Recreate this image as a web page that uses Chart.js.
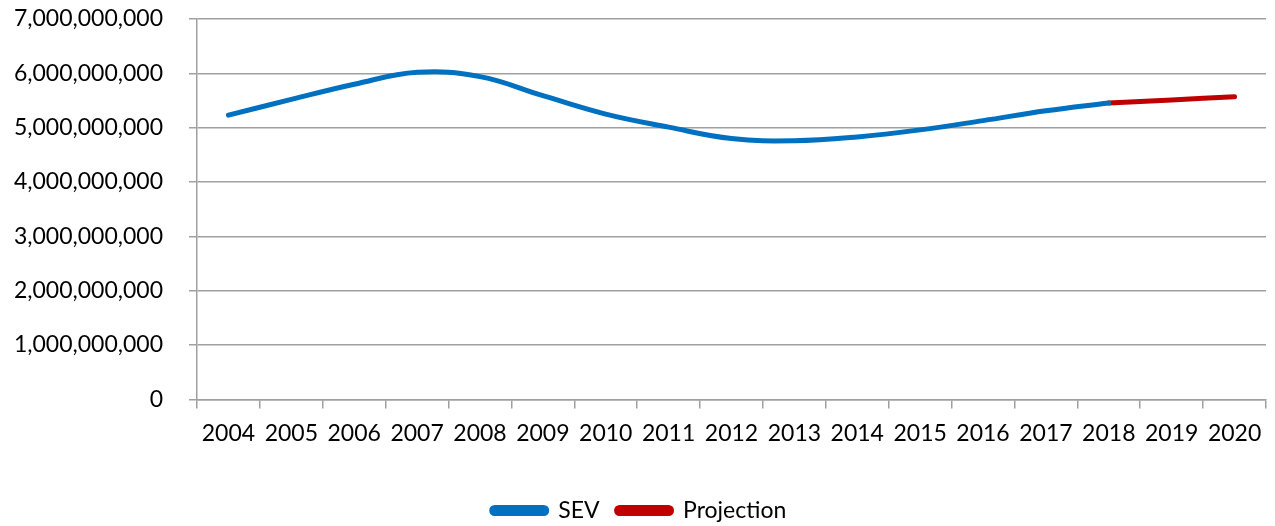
<!DOCTYPE html>
<html>
<head>
<meta charset="utf-8">
<title>SEV</title>
<script src="https://cdn.jsdelivr.net/npm/chart.js@4.4.1/dist/chart.umd.min.js"></script>
<style>
    html, body { margin: 0; padding: 0; background: #fff; }
    #wrap { width: 1275px; height: 526px; }
</style>
</head>
<body>
<div id="wrap"><canvas id="sevChart"></canvas></div>
<script>
// Data
const years = ['2004', '2005', '2006', '2007', '2008', '2009', '2010', '2011', '2012',
               '2013', '2014', '2015', '2016', '2017', '2018', '2019', '2020'];
const sevValues = [5.23e9, 5.52e9, 5.80e9, 6.02e9, 5.94e9, 5.59e9, 5.25e9, 5.01e9, 4.80e9,
                   4.76e9, 4.83e9, 4.96e9, 5.13e9, 5.31e9, 5.455e9, null, null];
const projectionValues = [null, null, null, null, null, null, null, null, null,
                          null, null, null, null, null, 5.455e9, 5.51e9, 5.57e9];
const yTicks = [0, 1e9, 2e9, 3e9, 4e9, 5e9, 6e9, 7e9];

const FONT = 'Lato, "Open Sans", sans-serif';
const GRID = '#a0a0a0';

function initSevChart() {
    const ctx = document.getElementById('sevChart');

    new Chart(ctx, {
        type: 'line',
        data: {
            labels: years,
            datasets: [{
                label: 'SEV',
                data: sevValues,
                borderColor: '#0070C0',
                backgroundColor: '#0070C0',
                borderWidth: 5,
                borderCapStyle: 'round',
                tension: 0.4,
                pointRadius: 0,
                fill: false
            }, {
                label: 'Projection',
                data: projectionValues,
                borderColor: '#C00000',
                backgroundColor: '#C00000',
                borderWidth: 5,
                borderCapStyle: 'round',
                tension: 0.4,
                pointRadius: 0,
                fill: false
            }]
        },
        options: {
            responsive: true,
            maintainAspectRatio: false,
            animation: false,
            layout: {
                padding: { left: 12, right: 9, top: 8, bottom: -6 }
            },
            plugins: {
                legend: {
                    position: 'bottom',
                    labels: {
                        boxWidth: 55,
                        boxHeight: 6,
                        padding: 17,
                        useBorderRadius: true,
                        borderRadius: 3,
                        color: '#000',
                        font: { family: FONT, size: 23 }
                    }
                },
                tooltip: { enabled: false }
            },
            scales: {
                y: {
                    min: 0,
                    max: 7e9,
                    afterBuildTicks: function(axis) {
                        axis.ticks = yTicks.map(v => ({ value: v }));
                    },
                    afterFit: function(axis) {
                        // fixed label column and headroom above the top tick
                        axis.width = 185;
                        axis.paddingTop = 19;
                        axis.paddingBottom = 0;
                    },
                    grid: {
                        color: GRID,
                        lineWidth: 1.5,
                        tickLength: 8
                    },
                    border: { color: GRID, width: 1.5 },
                    ticks: {
                        padding: 26,
                        color: '#000',
                        font: { family: FONT, size: 23 },
                        callback: function(value) {
                            return Number(value).toLocaleString('en-US');
                        }
                    }
                },
                x: {
                    offset: true,
                    afterFit: function(axis) {
                        axis.height += 24;
                        axis.paddingLeft = 0;
                        axis.paddingRight = 0;
                    },
                    grid: {
                        offset: true,
                        drawOnChartArea: false,
                        color: GRID,
                        lineWidth: 1.5,
                        tickLength: 9
                    },
                    border: { color: GRID, width: 1.5 },
                    ticks: {
                        padding: 11,
                        maxRotation: 0,
                        autoSkip: false,
                        color: '#000',
                        font: { family: FONT, size: 23 }
                    }
                }
            }
        }
    });
}

// make sure the installed font is measured before layout
document.fonts.load('23px Lato').then(initSevChart, initSevChart);
</script>
</body>
</html>
